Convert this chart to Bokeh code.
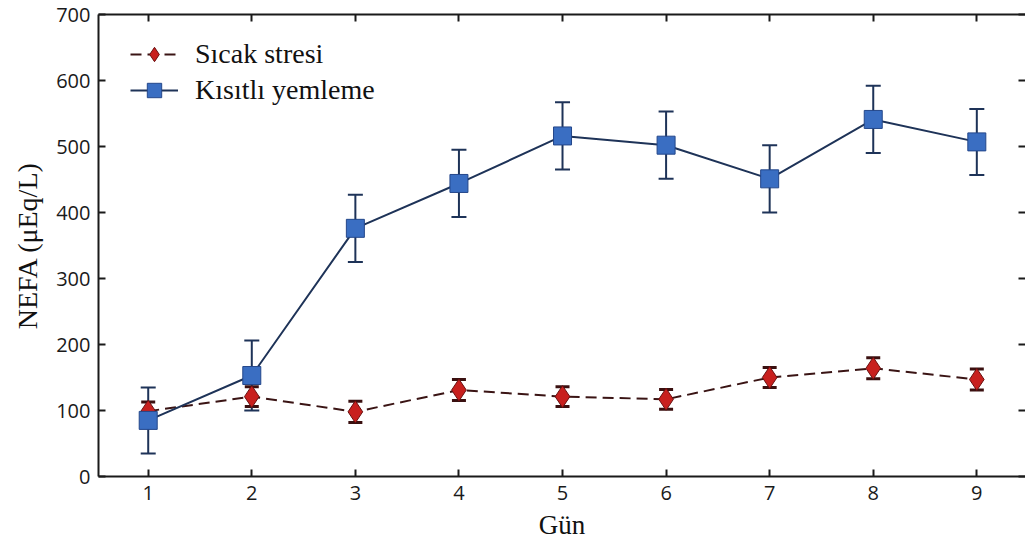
from bokeh.plotting import figure
from bokeh.models import ColumnDataSource, Whisker, TeeHead, LinearAxis, Range1d, FixedTicker, Legend, LegendItem
from bokeh.embed import file_html
from bokeh.resources import INLINE

days = [1, 2, 3, 4, 5, 6, 7, 8, 9]
sicak = [99, 121, 98, 131, 121, 117, 150, 164, 147]
sicak_err = [14, 15, 16, 16, 15, 15, 15, 16, 16]
kisitli = [85, 153, 376, 444, 516, 502, 451, 541, 507]
kisitli_err = [50, 53, 51, 51, 51, 51, 51, 51, 50]
y_ticks = [0, 100, 200, 300, 400, 500, 600, 700]

p = figure(width=1025, height=550, output_backend="svg", toolbar_location=None,
           x_range=Range1d(0.52, 9.47), y_range=Range1d(0, 700),
           min_border_left=98, min_border_right=0, min_border_top=14, min_border_bottom=74,
           x_axis_location=None, y_axis_location=None)
p.grid.visible = False
p.outline_line_color = None
p.background_fill_color = "white"
p.border_fill_color = "white"

TICK_FONT = "Open Sans"
SERIF = "Liberation Serif"

def style(ax, labels=True):
    ax.major_tick_in = 7
    ax.major_tick_out = 0
    ax.minor_tick_line_color = None
    ax.axis_line_width = 2
    ax.major_tick_line_width = 2
    ax.axis_line_color = "#1a1a1a"
    ax.major_tick_line_color = "#1a1a1a"
    ax.major_label_text_font = TICK_FONT
    ax.major_label_text_font_size = "20px"
    ax.major_label_text_color = "#1a1a1a"
    if not labels:
        ax.major_label_overrides = {t: "" for t in ax.ticker.ticks}

xb = LinearAxis(ticker=FixedTicker(ticks=days), axis_label="Gün")
style(xb)
xb.major_label_standoff = 9
xb.axis_label_text_font = SERIF
xb.axis_label_text_font_style = "normal"
xb.axis_label_text_font_size = "27px"
xb.axis_label_text_color = "#111111"
xb.axis_label_standoff = 7
p.add_layout(xb, "below")

yl = LinearAxis(ticker=FixedTicker(ticks=y_ticks), axis_label="NEFA (μEq/L)")
style(yl)
yl.major_label_standoff = 8
yl.axis_label_text_font = SERIF
yl.axis_label_text_font_style = "normal"
yl.axis_label_text_font_size = "28px"
yl.axis_label_text_color = "#111111"
yl.axis_label_standoff = 10
p.add_layout(yl, "left")

xt = LinearAxis(ticker=FixedTicker(ticks=days))
style(xt, labels=False)
xt.major_label_standoff = 0
p.add_layout(xt, "above")

yr = LinearAxis(ticker=FixedTicker(ticks=y_ticks))
style(yr, labels=False)
yr.axis_line_color = None
yr.major_label_standoff = 0
p.add_layout(yr, "right")

src_s = ColumnDataSource(dict(x=days, y=sicak,
                              lo=[v - e for v, e in zip(sicak, sicak_err)],
                              hi=[v + e for v, e in zip(sicak, sicak_err)]))
src_k = ColumnDataSource(dict(x=days, y=kisitli,
                              lo=[v - e for v, e in zip(kisitli, kisitli_err)],
                              hi=[v + e for v, e in zip(kisitli, kisitli_err)]))

RED_LINE = "#3a1414"
RED_FILL = "#c8201e"
RED_EDGE = "#6a1010"
BLUE_LINE = "#1e3358"
BLUE_FILL = "#3a6ec2"
BLUE_EDGE = "#24478a"

ws = Whisker(source=src_s, base="x", upper="hi", lower="lo", line_color=RED_EDGE, line_width=2,
             upper_head=TeeHead(size=14, line_color="#3a1010", line_width=3),
             lower_head=TeeHead(size=14, line_color="#3a1010", line_width=3))
p.add_layout(ws)
ls = p.line("x", "y", source=src_s, line_color=RED_LINE, line_width=2, line_dash="11 6")
ms = p.scatter("x", "y", source=src_s, marker="diamond", size=22, fill_color=RED_FILL,
               line_color=RED_EDGE, line_width=1)

wk = Whisker(source=src_k, base="x", upper="hi", lower="lo", line_color=BLUE_LINE, line_width=2,
             upper_head=TeeHead(size=15, line_color=BLUE_LINE, line_width=2),
             lower_head=TeeHead(size=15, line_color=BLUE_LINE, line_width=2))
p.add_layout(wk)
lk = p.line("x", "y", source=src_k, line_color=BLUE_LINE, line_width=2)
mk = p.scatter("x", "y", source=src_k, marker="square", size=18, fill_color=BLUE_FILL,
               line_color=BLUE_EDGE, line_width=1)

legend = Legend(items=[LegendItem(label="Sıcak stresi", renderers=[ls, ms]),
                       LegendItem(label="Kısıtlı yemleme", renderers=[lk, mk])],
                location=(32, 368))
legend.border_line_color = None
legend.background_fill_alpha = 0
legend.padding = 0
legend.spacing = 0
legend.margin = 0
legend.glyph_width = 48
legend.glyph_height = 36
legend.label_height = 36
legend.label_standoff = 17
legend.label_text_font = SERIF
legend.label_text_font_size = "28px"
legend.label_text_color = "#111111"
p.add_layout(legend)

open("out.html", "w").write(file_html(p, INLINE))
